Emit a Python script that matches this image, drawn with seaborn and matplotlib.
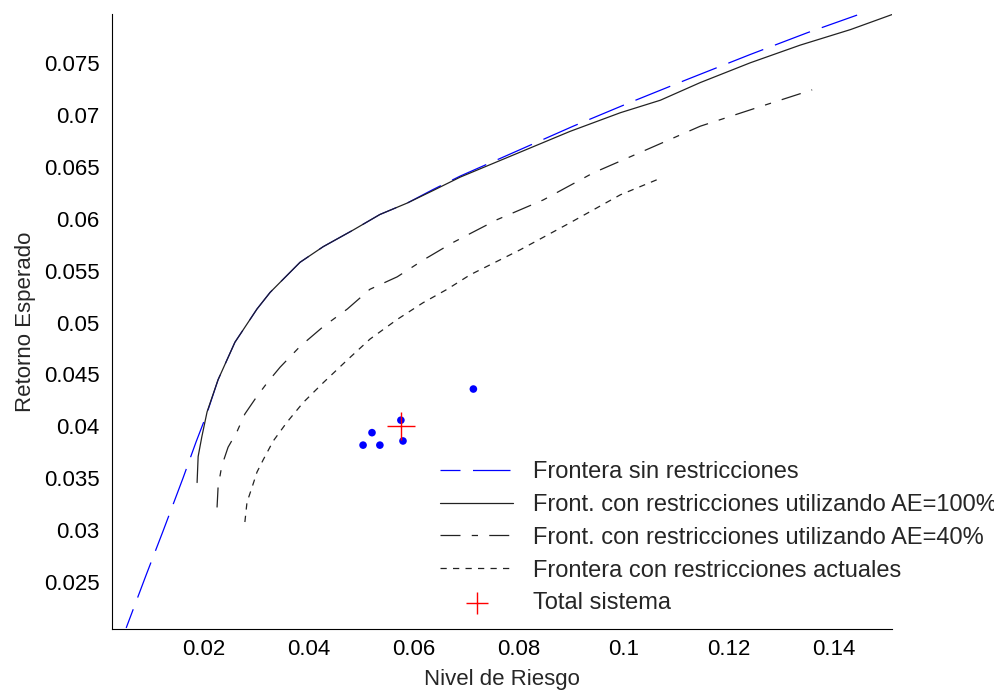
"""
Fronteras eficientes: riesgo vs retorno esperado.
"""
import matplotlib
matplotlib.use('Agg')
import matplotlib.pyplot as plt
import matplotlib.ticker as mticker
import seaborn as sns

# Frontera sin restricciones
x_sin = [0.0052, 0.0090, 0.0122, 0.0160, 0.0185, 0.0204, 0.0227, 0.0259, 0.0301,
         0.0326, 0.0383, 0.0427, 0.0484, 0.0535, 0.0587, 0.0636, 0.0688, 0.0800,
         0.0903, 0.1012, 0.1120, 0.1240, 0.1349, 0.1455]
y_sin = [0.0206, 0.0257, 0.0299, 0.0350, 0.0385, 0.0410, 0.0445, 0.0481, 0.0513,
         0.0529, 0.0558, 0.0573, 0.0589, 0.0604, 0.0615, 0.0628, 0.0641, 0.0666,
         0.0689, 0.0712, 0.0734, 0.0758, 0.0779, 0.0798]

# Front. con restricciones utilizando AE=100%
x_100 = [0.0187, 0.0189, 0.0196, 0.0206, 0.0227, 0.0259, 0.0301, 0.0326, 0.0383,
         0.0427, 0.0484, 0.0535, 0.0587, 0.0636, 0.0688, 0.0802, 0.0897, 0.0993,
         0.1069, 0.1145, 0.1240, 0.1335, 0.1431, 0.1513]
y_100 = [0.0346, 0.0371, 0.0390, 0.0414, 0.0445, 0.0481, 0.0513, 0.0529, 0.0558,
         0.0573, 0.0589, 0.0604, 0.0615, 0.0627, 0.0640, 0.0664, 0.0684, 0.0702,
         0.0714, 0.0731, 0.0750, 0.0767, 0.0782, 0.0797]

# Front. con restricciones utilizando AE=40%
x_40 = [0.0225, 0.0227, 0.0234, 0.0246, 0.0263, 0.0278, 0.0301, 0.0322, 0.0345,
        0.0383, 0.0427, 0.0473, 0.0516, 0.0568, 0.0617, 0.0674, 0.0758, 0.0846,
        0.0941, 0.1050, 0.1145, 0.1254, 0.1358]
y_40 = [0.0322, 0.0342, 0.0362, 0.0380, 0.0395, 0.0412, 0.0429, 0.0443, 0.0457,
        0.0477, 0.0496, 0.0513, 0.0532, 0.0544, 0.0560, 0.0577, 0.0599, 0.0618,
        0.0644, 0.0668, 0.0689, 0.0707, 0.0724]

# Frontera con restricciones actuales
x_act = [0.0278, 0.0282, 0.0292, 0.0301, 0.0313, 0.0332, 0.0358, 0.0389, 0.0427,
         0.0473, 0.0516, 0.0568, 0.0617, 0.0663, 0.0707, 0.0802, 0.0897, 0.0993,
         0.1065]
y_act = [0.0308, 0.0327, 0.0342, 0.0356, 0.0368, 0.0386, 0.0404, 0.0423, 0.0442,
         0.0464, 0.0484, 0.0503, 0.0519, 0.0532, 0.0546, 0.0570, 0.0596, 0.0623,
         0.0638]

# Carteras individuales y total del sistema
x_pts = [0.0503, 0.0520, 0.0535, 0.0575, 0.0579, 0.0713]
y_pts = [0.0382, 0.0394, 0.0382, 0.0406, 0.0386, 0.0436]
x_total = [0.0575]
y_total = [0.0400]

x_ticks = [0.02, 0.04, 0.06, 0.08, 0.10, 0.12, 0.14]
y_ticks = [0.025, 0.030, 0.035, 0.040, 0.045, 0.050, 0.055, 0.060, 0.065, 0.070, 0.075]

sns.set_style('white')
plt.rcParams['font.family'] = ['Liberation Sans', 'DejaVu Sans']
plt.rcParams['font.size'] = 16

fig = plt.figure(figsize=(9.94, 6.90), dpi=100)
ax = fig.add_axes([112 / 994, 1 - 629 / 690, 780 / 994, 615 / 690])

lw = 0.9
sns.lineplot(x=x_sin, y=y_sin, sort=False, estimator=None, ax=ax, color='blue',
             linewidth=lw, linestyle=(14, (30, 10)), label='Frontera sin restricciones')
sns.lineplot(x=x_100, y=y_100, sort=False, estimator=None, ax=ax, color='#222222',
             linewidth=lw, linestyle='-', label='Front. con restricciones utilizando AE=100%')
sns.lineplot(x=x_40, y=y_40, sort=False, estimator=None, ax=ax, color='#222222',
             linewidth=lw, linestyle=(0, (16, 9, 5, 9)),
             label='Front. con restricciones utilizando AE=40%')
sns.lineplot(x=x_act, y=y_act, sort=False, estimator=None, ax=ax, color='#222222',
             linewidth=lw, linestyle=(0, (5, 5)), label='Frontera con restricciones actuales')
sns.scatterplot(x=x_pts, y=y_pts, ax=ax, color='blue', s=30, edgecolor='none', zorder=3)
sns.scatterplot(x=x_total, y=y_total, ax=ax, color='red', marker='+', s=400,
                linewidth=1, zorder=4, label='Total sistema')

ax.set_xlim(0.0025, 0.151)
ax.set_ylim(0.0205, 0.0797)
ax.set_xticks(x_ticks)
ax.set_yticks(y_ticks)
fmt = mticker.FuncFormatter(lambda v, p: f'{v:g}')
ax.xaxis.set_major_formatter(fmt)
ax.yaxis.set_major_formatter(fmt)
ax.tick_params(direction='in', length=6.5, width=0.8, colors='black', labelsize=16, pad=7)
ax.tick_params(axis='y', pad=9)
for side in ['top', 'right']:
    ax.spines[side].set_visible(False)
for side in ['left', 'bottom']:
    ax.spines[side].set_color('black')
    ax.spines[side].set_linewidth(0.8)

ax.set_xlabel('Nivel de Riesgo', fontsize=16, labelpad=7)
ax.set_ylabel('Retorno Esperado', fontsize=16, labelpad=6)

handles, labels = ax.get_legend_handles_labels()
ax.legend(handles, labels, frameon=False, loc='upper left',
          bbox_to_anchor=(440 / 994, 1 - 461 / 690), bbox_transform=fig.transFigure,
          borderpad=0, borderaxespad=0, handlelength=3.1, handletextpad=0.85,
          labelspacing=0.46, fontsize=17, markerscale=0.8)

fig.savefig('out.png', dpi=100)
